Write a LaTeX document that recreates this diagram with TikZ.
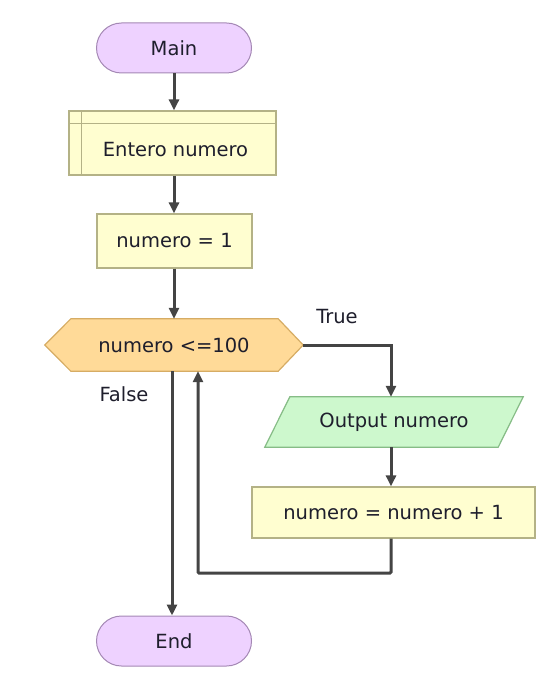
\documentclass[tikz,border=0pt]{standalone}
\usepackage{fontspec}
\setmainfont{DejaVu Sans}
\usetikzlibrary{arrows.meta,calc,backgrounds}

\definecolor{termfill}{HTML}{EED2FF}
\definecolor{termline}{HTML}{A488B4}
\definecolor{procfill}{HTML}{FFFED0}
\definecolor{procline}{HTML}{B4B286}
\definecolor{decfill}{HTML}{FFDA98}
\definecolor{decline}{HTML}{D6AC64}
\definecolor{iofill}{HTML}{CDF8CD}
\definecolor{ioline}{HTML}{86BC86}
\definecolor{flow}{HTML}{444444}
\definecolor{ink}{HTML}{1E1E2C}

\tikzset{
  txt/.style={font=\fontsize{19.5}{23}\selectfont, text=ink, inner sep=0pt},
  terminal/.style={txt, draw=termline, fill=termfill, line width=1pt,
    rounded corners=25pt, minimum width=155pt, minimum height=50pt},
  procbox/.style={txt, draw=procline, fill=procfill, line width=1.2pt,
    minimum height=52pt},
  shapeonly/.style={txt, minimum height=#1},
  flowline/.style={draw=flow, line width=3pt,
    -{Triangle[length=11pt,width=10pt]}}
}

\begin{document}
\begin{tikzpicture}[x=1pt, y=-1pt]
  \useasboundingbox (0,0) rectangle (553,692);

  % start terminal
  \node[terminal] (main) at (174,48) {Main};

  % declaration block with its header band and side strip
  \node[procbox, minimum width=207pt, minimum height=64pt] (decl) at (172.5,143) {};
  \draw[procline, line width=1.2pt]
    ($(decl.north west)+(0,13)$) -- ($(decl.north east)+(0,13)$)
    ($(decl.north west)+(13,0)$) -- ($(decl.south west)+(13,0)$);
  \node[txt] (decltext) at ($(decl.center)+(3,7)$) {Entero numero};

  % initial assignment
  \node[procbox, minimum width=155pt, minimum height=54pt] (init) at (174.5,241) {numero = 1};

  % loop condition (hexagon)
  \node[shapeonly=52pt, minimum width=258pt] (cond) at (174,345) {numero <=100};
  \begin{scope}[on background layer]
    \draw[draw=decline, fill=decfill, line width=1.2pt]
      (cond.west) -- ($(cond.north west)+(26,0)$) -- ($(cond.north east)+(-25,0)$)
      -- (cond.east) -- ($(cond.south east)+(-25,0)$) -- ($(cond.south west)+(26,0)$)
      -- cycle;
  \end{scope}

  % output (parallelogram)
  \node[shapeonly=50pt, minimum width=258pt] (out) at (394,422) {Output numero};
  \begin{scope}[on background layer]
    \draw[draw=ioline, fill=iofill, line width=1.2pt]
      (out.south west) -- ($(out.north west)+(25,0)$) -- (out.north east)
      -- ($(out.south east)+(-25,0)$) -- cycle;
  \end{scope}

  % increment
  \node[procbox, minimum width=283pt, minimum height=51pt] (inc) at (393.5,512.5) {numero = numero + 1};

  % end terminal
  \node[terminal] (finish) at (174,641) {End};

  % branch labels
  \node[txt] (truelbl) at (337,317) {True};
  \node[txt] (falselbl) at (124,394) {False};

  % connector points on the right-hand column and the loop return
  \coordinate (rcol) at ([xshift=-3pt]out.north);
  \coordinate (back) at (198,573);
  \coordinate (exit) at ([xshift=-2pt]cond.south);

  % connectors
  \draw[flowline] (main.south) -- (main.south |- decl.north);
  \draw[flowline] (main.south |- decl.south) -- (main.south |- init.north);
  \draw[flowline] (main.south |- init.south) -- (cond.north);
  \draw[flowline] (cond.east) -| (rcol);
  \draw[flowline] (rcol |- out.south) -- (rcol |- inc.north);
  \draw[flowline, rounded corners=1pt] (rcol |- inc.south) |- (back) -- (back |- cond.south);
  \draw[flowline] (exit) -- (exit |- finish.north);
\end{tikzpicture}
\end{document}
